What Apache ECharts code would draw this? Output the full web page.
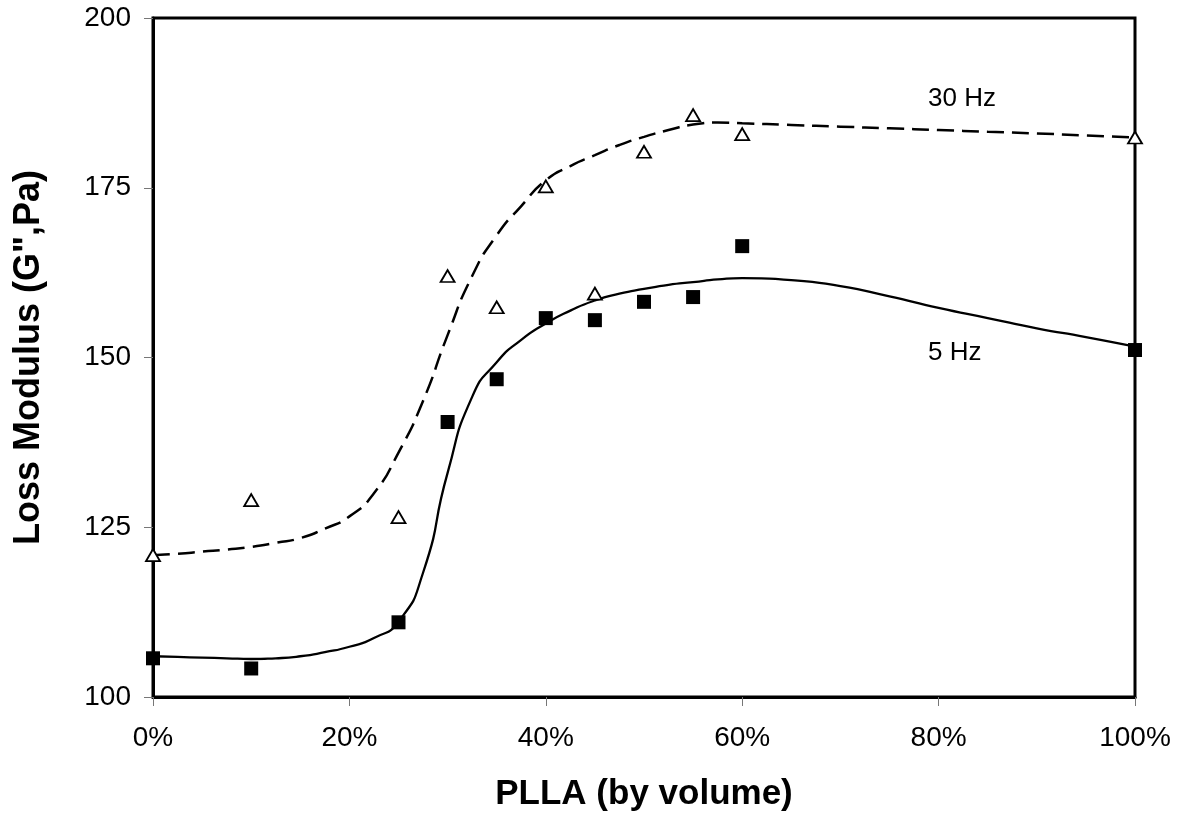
<!DOCTYPE html>
<html>
<head>
<meta charset="utf-8">
<script src="https://cdn.jsdelivr.net/npm/echarts@6/dist/echarts.min.js"></script>
<style>
html,body{margin:0;padding:0;background:#fff;}
#chart{width:1180px;height:819px;}
</style>
</head>
<body>
<div id="chart"></div>
<script>
// Measured data (fraction PLLA, loss modulus G'' in Pa)
const plla = [0, 0.10, 0.25, 0.30, 0.35, 0.40, 0.45, 0.50, 0.55, 0.60, 1.00];
const g5Hz  = [105.7, 104.2, 111.0, 140.5, 146.8, 155.8, 155.5, 158.2, 158.9, 166.4, 151.1];
const g30Hz = [120.9, 129.0, 126.5, 162.0, 157.4, 175.2, 159.4, 180.3, 185.7, 182.9, 182.4];

// Trend curves
const fitX = [0, 0.025, 0.05, 0.075, 0.10, 0.125, 0.15, 0.175, 0.20, 0.225, 0.25, 0.275, 0.30, 0.325, 0.35, 0.375, 0.40, 0.425, 0.45, 0.475, 0.50, 0.525, 0.55, 0.575, 0.60, 0.65, 0.70, 0.75, 0.80, 0.85, 0.90, 0.95, 1.00];
const fit5y  = [106.0, 105.9, 105.8, 105.7, 105.6, 105.7, 106.0, 106.6, 107.4, 108.7, 111.1, 118.3, 133.0, 144.2, 149.3, 152.6, 155.0, 156.9, 158.4, 159.4, 160.1, 160.7, 161.1, 161.5, 161.7, 161.4, 160.5, 159.0, 157.3, 155.8, 154.3, 153.0, 151.6];
const fit30y = [120.9, 121.1, 121.4, 121.7, 122.1, 122.7, 123.4, 124.8, 126.6, 130.0, 136.0, 143.6, 153.3, 162.0, 168.0, 172.3, 176.1, 178.2, 179.8, 181.3, 182.5, 183.5, 184.3, 184.6, 184.5, 184.25, 184.0, 183.75, 183.5, 183.25, 183.0, 182.7, 182.4];

const xTicks = [0, 0.2, 0.4, 0.6, 0.8, 1.0];
const yTicks = [100, 125, 150, 175, 200];
const seriesLabels = ['30 Hz', '5 Hz'];

const zip = (a, b) => a.map((v, i) => [v, b[i]]);
const FONT = '"Liberation Sans", Arial, Helvetica, sans-serif';

const chart = echarts.init(document.getElementById('chart'), null, {renderer: 'canvas'});
const option = {
  animation: false,
  backgroundColor: '#fff',
  grid: {
    left: 153, right: 45, top: 18, bottom: 122,
    show: true, borderColor: '#000', borderWidth: 3, backgroundColor: 'transparent'
  },
  xAxis: {
    type: 'value', min: xTicks[0], max: xTicks[xTicks.length - 1], interval: 0.2,
    name: 'PLLA (by volume)', nameLocation: 'middle', nameGap: 80,
    nameTextStyle: {fontFamily: FONT, fontSize: 35, fontWeight: 'bold', color: '#000'},
    axisLine: {show: true, lineStyle: {color: '#000', width: 3}},
    axisTick: {show: true, inside: false, length: 9, lineStyle: {color: '#777', width: 1}},
    axisLabel: {fontFamily: FONT, fontSize: 28, color: '#000', margin: 27,
      formatter: v => Math.round(v * 100) + '%'},
    splitLine: {show: false}
  },
  yAxis: {
    type: 'value', min: yTicks[0], max: yTicks[yTicks.length - 1], interval: 25,
    name: 'Loss Modulus (G",Pa)', nameLocation: 'middle', nameGap: 106,
    nameTextStyle: {fontFamily: FONT, fontSize: 36, fontWeight: 'bold', color: '#000'},
    axisLine: {show: true, lineStyle: {color: '#000', width: 3}},
    axisTick: {show: true, inside: false, length: 9, lineStyle: {color: '#777', width: 1}},
    axisLabel: {fontFamily: FONT, fontSize: 28, color: '#000', margin: 22},
    splitLine: {show: false}
  },
  series: [
    {
      name: 'fit30', type: 'line', data: zip(fitX, fit30y), smooth: 0.6,
      showSymbol: false, symbol: 'none',
      lineStyle: {color: '#000', width: 2.5, type: [17, 8]}, z: 2
    },
    {
      name: 'fit5', type: 'line', data: zip(fitX, fit5y), smooth: 0.6,
      showSymbol: false, symbol: 'none',
      lineStyle: {color: '#000', width: 2.3}, z: 2
    },
    {
      name: seriesLabels[0], type: 'scatter', data: zip(plla, g30Hz),
      symbol: 'triangle', symbolSize: [14, 12],
      itemStyle: {color: '#fff', borderColor: '#000', borderWidth: 1.8, opacity: 1}, z: 5
    },
    {
      name: seriesLabels[1], type: 'scatter', data: zip(plla, g5Hz),
      symbol: 'rect', symbolSize: 14,
      itemStyle: {color: '#000', opacity: 1}, z: 5
    }
  ],
  graphic: [
    {type: 'text', left: 928, top: 86, style: {text: seriesLabels[0], font: '26px ' + FONT, fill: '#000'}},
    {type: 'text', left: 928, top: 340, style: {text: seriesLabels[1], font: '26px ' + FONT, fill: '#000'}}
  ]
};
chart.setOption(option);
</script>
</body>
</html>
